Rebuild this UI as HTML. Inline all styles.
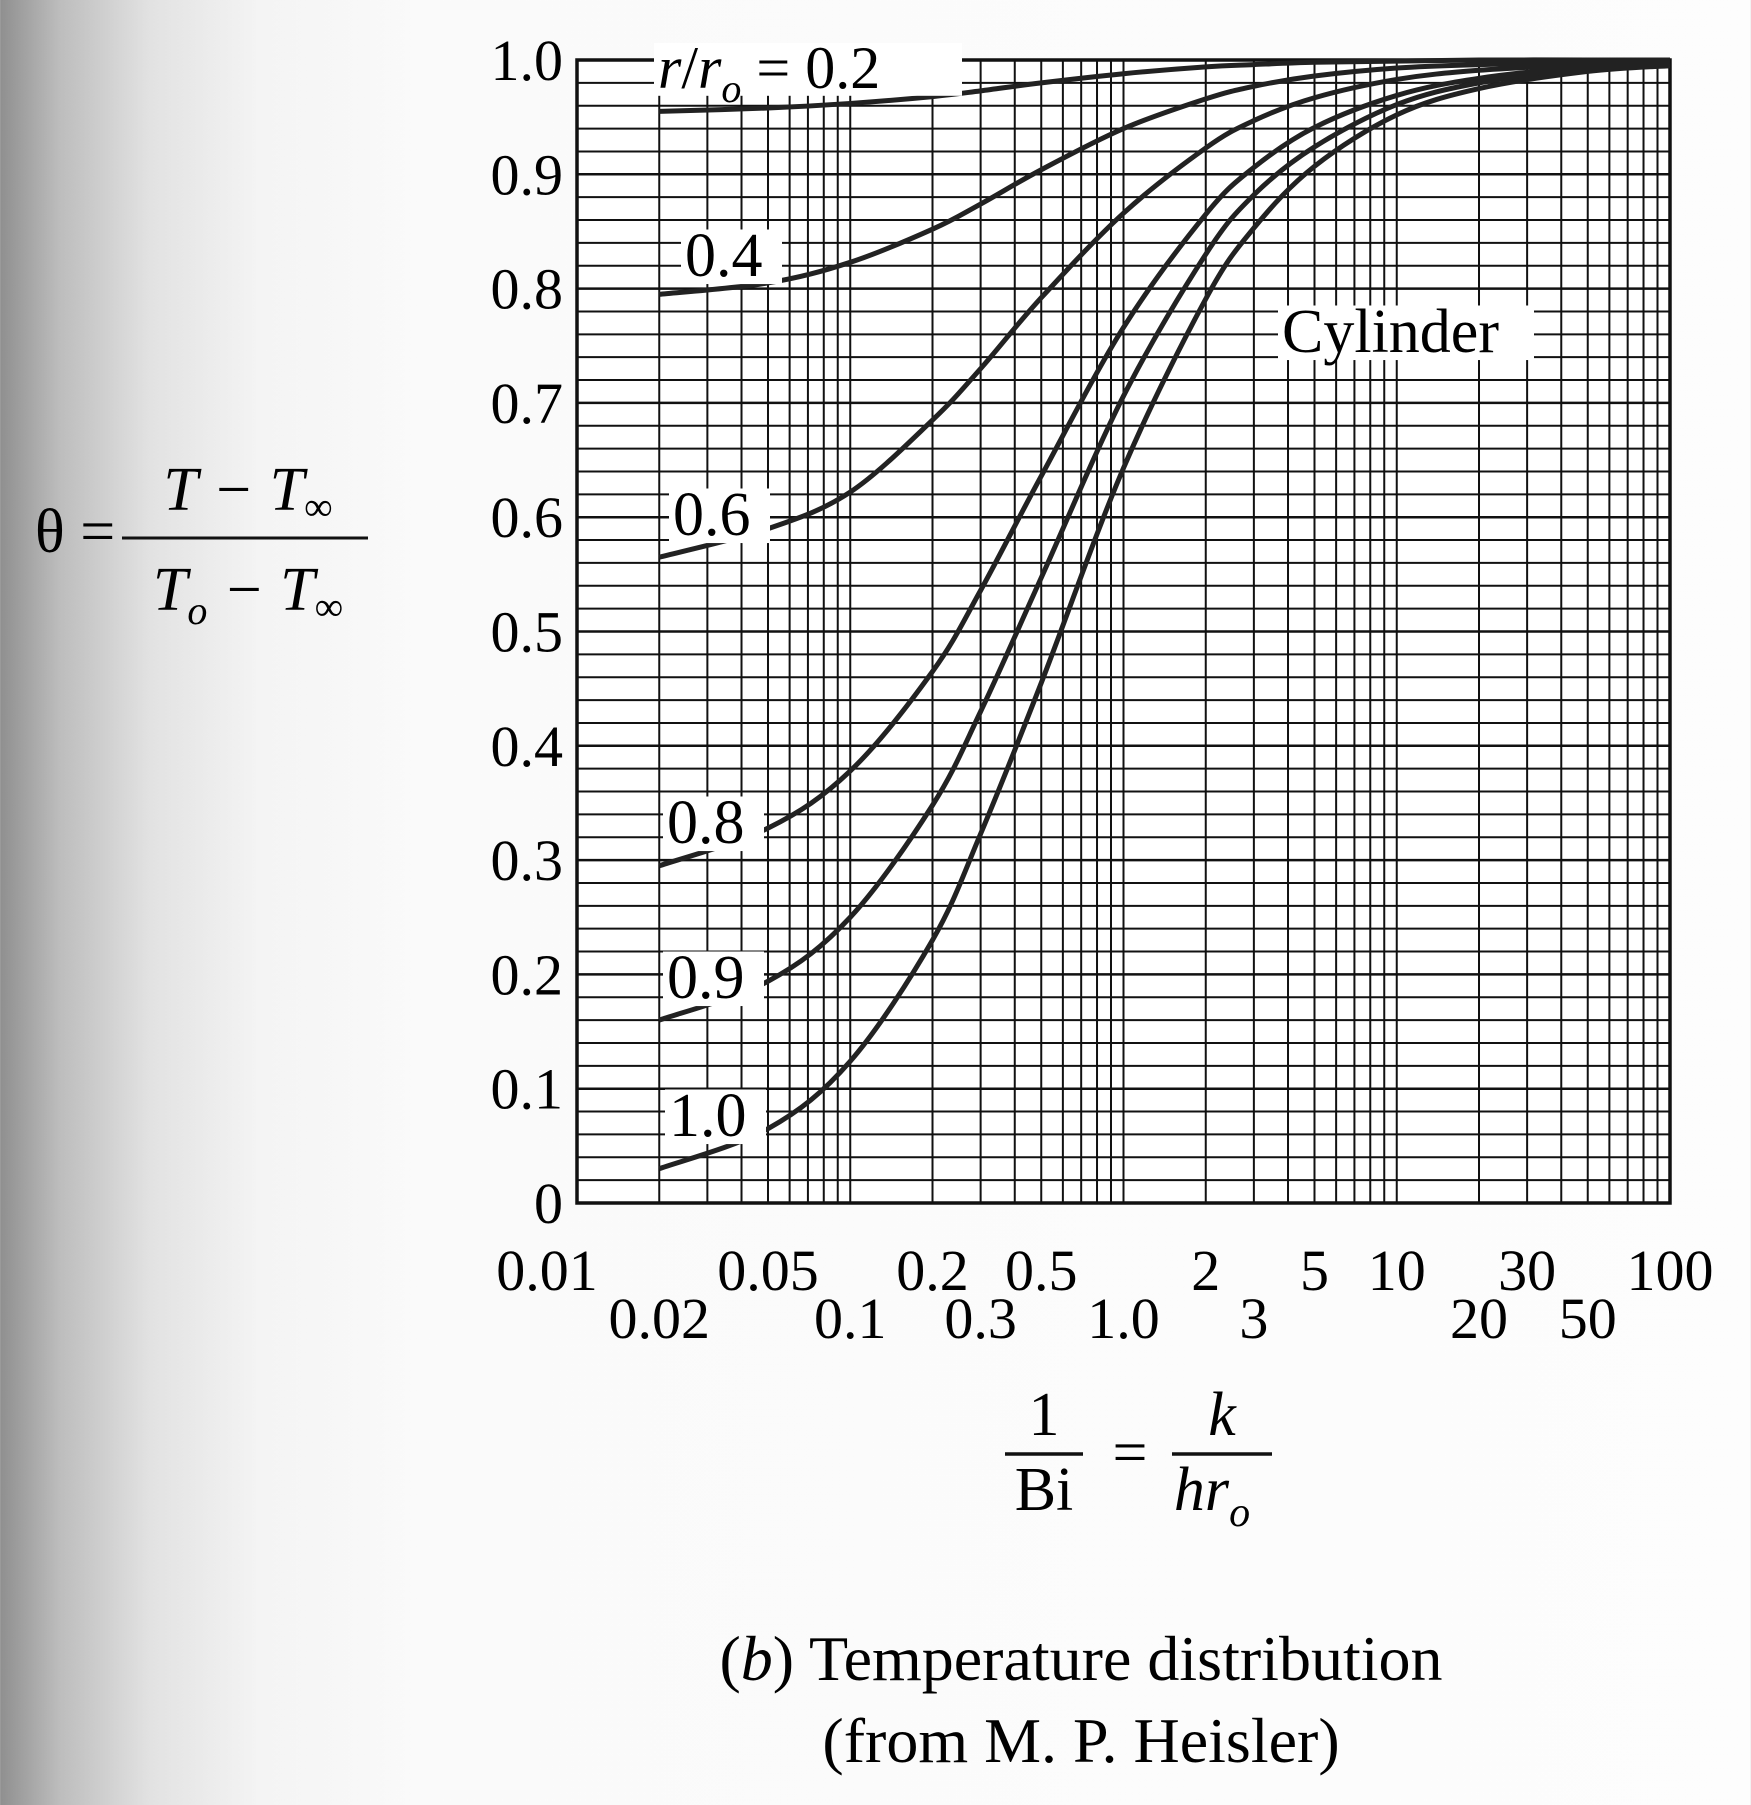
<!DOCTYPE html>
<html><head><meta charset="utf-8"><style>
html,body{margin:0;padding:0}
body{width:1751px;height:1800px;overflow:hidden;background:linear-gradient(90deg,#8f8f8f 0px,#bdbdbd 60px,#e2e2e2 150px,#f4f4f4 260px,#fafafa 420px,#fdfdfd 100%);font-family:"Liberation Serif",serif}
</style></head><body>
<svg id="chart" width="1751" height="1800" xmlns="http://www.w3.org/2000/svg" font-family="Liberation Serif, serif">
<g id="grid"></g>
<g id="curves"></g>
<g id="labels"></g>
<g font-size="62">
<text x="35" y="552">θ =</text>
<text x="248" y="510" text-anchor="middle" font-style="italic">T − T<tspan font-style="normal" font-size="40" dy="10">∞</tspan></text>
<line x1="122" y1="538" x2="368" y2="538" stroke="#111" stroke-width="3"/>
<text x="248" y="610" text-anchor="middle" font-style="italic">T<tspan font-size="40" dy="14">o</tspan><tspan dy="-14"> − T</tspan><tspan font-style="normal" font-size="40" dy="10">∞</tspan></text>
</g>
<g font-size="62">
<text x="1044" y="1435" text-anchor="middle">1</text>
<line x1="1005" y1="1454" x2="1083" y2="1454" stroke="#111" stroke-width="3.5"/>
<text x="1044" y="1510" text-anchor="middle">Bi</text>
<text x="1130" y="1473" text-anchor="middle">=</text>
<text x="1222" y="1435" text-anchor="middle" font-style="italic">k</text>
<line x1="1172" y1="1454" x2="1272" y2="1454" stroke="#111" stroke-width="3.5"/>
<text x="1212" y="1510" text-anchor="middle" font-style="italic">hr<tspan font-size="42" dy="16">o</tspan></text>
</g>
<g font-size="64">
<text x="1081" y="1680" text-anchor="middle">(<tspan font-style="italic">b</tspan>) Temperature distribution</text>
<text x="1081" y="1762" text-anchor="middle">(from M. P. Heisler)</text>
</g>
</svg>
<script>
const xValues=[0.02,0.05,0.1,0.2,0.3,0.5,1,2,3,5,10,20,50,100];
const seriesNames=["0.2","0.4","0.6","0.8","0.9","1.0"];
const r02=[0.955,0.958,0.962,0.968,0.973,0.980,0.988,0.994,0.996,0.998,0.999,1,1,1];
const r04=[0.795,0.805,0.823,0.852,0.874,0.904,0.940,0.966,0.977,0.986,0.993,0.996,0.998,0.999];
const r06=[0.565,0.590,0.622,0.685,0.730,0.792,0.866,0.923,0.947,0.967,0.983,0.991,0.996,0.998];
const r08=[0.295,0.328,0.378,0.465,0.536,0.636,0.766,0.865,0.906,0.941,0.969,0.984,0.994,0.997];
const r09=[0.160,0.194,0.250,0.348,0.430,0.547,0.706,0.830,0.882,0.924,0.961,0.980,0.992,0.996];
const r10=[0.030,0.065,0.124,0.230,0.323,0.455,0.643,0.791,0.853,0.907,0.952,0.975,0.990,0.995];
const yTicks=["0","0.1","0.2","0.3","0.4","0.5","0.6","0.7","0.8","0.9","1.0"];
const xTicksTop=["0.01","0.05","0.2","0.5","2","5","10","30","100"];
const xTicksBottom=["0.02","0.1","0.3","1.0","3","20","50"];

const L=577,R=1670,T=60,B=1203;
const NS="http://www.w3.org/2000/svg";
function X(v){return L+(Math.log10(v)+2)/4*(R-L);}
function Y(v){return B-v*(B-T);}
function mk(tag,attrs,parent){const e=document.createElementNS(NS,tag);for(const k in attrs)e.setAttribute(k,attrs[k]);parent.appendChild(e);return e;}
const grid=document.getElementById('grid'),curves=document.getElementById('curves'),labels=document.getElementById('labels');
mk('rect',{x:L,y:T,width:R-L,height:B-T,fill:'#fff'},grid);
for(let i=0;i<=50;i++){const y=Y(i/50);
 const l=mk('line',{x1:L,x2:R,y1:y,y2:y,stroke:'#111','stroke-width':i%5==0?2.5:2},grid);
 
 }
for(let d=-2;d<2;d++){for(let k=1;k<=9;k++){const x=X(k*Math.pow(10,d));
 const l=mk('line',{x1:x,x2:x,y1:T,y2:B,stroke:'#111','stroke-width':2},grid);
 
 }}
mk('rect',{x:L,y:T,width:R-L,height:B-T,fill:'none',stroke:'#111','stroke-width':3.5},grid);
const allSeries=[r02,r04,r06,r08,r09,r10];
allSeries.forEach((s,i)=>{
 const pts=xValues.map((v,j)=>[X(v),Y(s[j])]);
 let d='M'+pts[0][0]+','+pts[0][1];
 for(let j=0;j<pts.length-1;j++){
  const p0=pts[Math.max(0,j-1)],p1=pts[j],p2=pts[j+1],p3=pts[Math.min(pts.length-1,j+2)];
  const c1=[p1[0]+(p2[0]-p0[0])/6,p1[1]+(p2[1]-p0[1])/6],c2=[p2[0]-(p3[0]-p1[0])/6,p2[1]-(p3[1]-p1[1])/6];
  d+=` C${c1[0]},${c1[1]} ${c2[0]},${c2[1]} ${p2[0]},${p2[1]}`;}
 const p=mk('path',{d:d,fill:'none',stroke:'#222','stroke-width':5},curves);
 
 
});
yTicks.forEach((t,i)=>{const e=mk('text',{x:563,y:Y(i/10)+20,'text-anchor':'end','font-size':58},labels);e.textContent=t;
 
 });
xTicksTop.forEach(t=>{const e=mk('text',{x:X(parseFloat(t))-(t=="0.01"?30:0),y:1290,'text-anchor':'middle','font-size':58},labels);e.textContent=t;
 
 });
xTicksBottom.forEach(t=>{const e=mk('text',{x:X(parseFloat(t)),y:1338,'text-anchor':'middle','font-size':58},labels);e.textContent=t;
 
 });
const curveLabels=[["0.4",685,276],["0.6",673,535],["0.8",667,843],["0.9",667,998],["1.0",669,1136]];
function boxText(txt,x,y,fs,name,italicHTML){
 const w=txt.length*fs*0.5+8;
 mk('rect',{x:x-4,y:y-fs*0.75,width:w,height:fs*0.88,fill:'#fff'},labels);
 const e=mk('text',{x:x,y:y,'font-size':fs},labels);
 if(italicHTML)e.innerHTML=italicHTML;else e.textContent=txt;
 
 }
boxText("r/ro = 0.2",658,88,60,'curve-label-0.2','<tspan font-style="italic">r</tspan>/<tspan font-style="italic">r</tspan><tspan font-style="italic" font-size="40" dy="14">o</tspan><tspan dy="-14"> = 0.2</tspan>');
curveLabels.forEach(c=>boxText(c[0],c[1],c[2],62,'curve-label-'+c[0]));
boxText("Cylinder",1282,352,62,'cylinder-label');
</script>
</body></html>
